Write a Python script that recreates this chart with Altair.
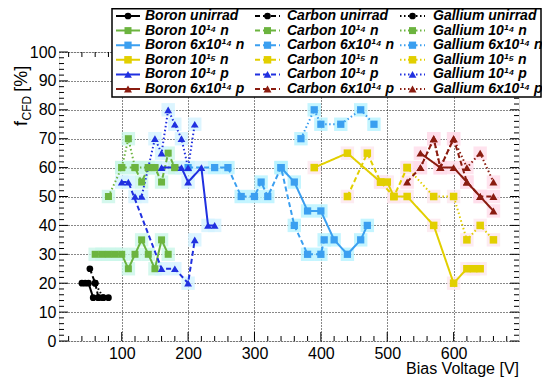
import altair as alt
import pandas as pd

FONT = "Liberation Sans"

# ---------------- categories / styles ----------------
materials = ["Boron", "Carbon", "Gallium"]
groups = ["unirrad", "1e14n", "6e14n", "1e15n", "1e14p", "6e14p"]
group_text = ["unirrad", "10¹⁴ n", "6x10¹⁴ n", "10¹⁵ n", "10¹⁴ p", "6x10¹⁴ p"]
group_colors = ["#000000", "#6cb43f", "#3b9ff0", "#e2cf00", "#2030e0", "#8a1c10"]
halo_colors = ["#ffffff", "#c9f6e8", "#b5f2ff", "#fde6ee", "#d3f2ff", "#ffdcea"]
group_shapes = ["circle", "square", "square", "square", "triangle-up", "triangle-up"]
group_sizes = [45, 64, 64, 64, 80, 80]
dash_styles = [[1, 0], [5, 3], [1.5, 2.5]]

# ---------------- data (bias voltage [V], f_CFD [%]) ----------------
boron_unirrad_v = [40, 50, 57, 65, 72, 80]
boron_unirrad_f = [20, 20, 15, 15, 15, 15]
carbon_unirrad_v = [52, 60, 65]
carbon_unirrad_f = [25, 20, 15]
gallium_unirrad_v = [45, 60, 72]
gallium_unirrad_f = [20, 20, 15]

boron_1e14n_v = [60, 70, 80, 90, 100, 110, 120, 130, 140, 150, 160, 170]
boron_1e14n_f = [30, 30, 30, 30, 30, 25, 30, 35, 30, 25, 35, 30]
carbon_1e14n_v = [100, 120, 130, 140, 150, 160, 170, 180]
carbon_1e14n_f = [60, 60, 55, 60, 60, 55, 65, 60]
gallium_1e14n_v = [80, 100, 110, 120, 140, 150, 180]
gallium_1e14n_f = [50, 60, 70, 60, 60, 60, 60]

boron_6e14n_v = [340, 360, 380, 400, 420, 440, 460, 470]
boron_6e14n_f = [60, 55, 45, 45, 35, 30, 35, 40]
carbon_6e14n_v = [200, 240, 260, 280, 300, 310, 320, 340, 360, 380, 400, 405]
carbon_6e14n_f = [60, 60, 60, 50, 50, 55, 50, 60, 40, 30, 30, 35]
gallium_6e14n_v = [370, 390, 400, 430, 460, 480]
gallium_6e14n_f = [70, 80, 75, 75, 80, 75]

boron_1e15n_v = [390, 440, 490, 500, 510, 530, 570, 600, 620, 630, 640]
boron_1e15n_f = [60, 65, 55, 55, 50, 50, 40, 20, 25, 25, 25]
carbon_1e15n_v = [440, 470, 490, 510, 530]
carbon_1e15n_f = [50, 65, 55, 50, 60]
gallium_1e15n_v = [530, 570, 600, 620, 640, 660]
gallium_1e15n_f = [60, 50, 50, 35, 40, 35]

boron_1e14p_v = [160, 190, 200, 220, 230, 240]
boron_1e14p_f = [60, 60, 55, 60, 40, 40]
carbon_1e14p_v = [100, 110, 160, 180, 200, 210]
carbon_1e14p_f = [55, 55, 25, 25, 20, 35]
gallium_1e14p_v = [120, 130, 150, 160, 170, 180, 190, 200, 210]
gallium_1e14p_f = [50, 50, 70, 65, 80, 75, 70, 60, 75]

boron_6e14p_v = [550, 580, 600, 620, 640, 660]
boron_6e14p_f = [65, 60, 60, 55, 50, 45]
carbon_6e14p_v = [530, 550, 570, 580, 600, 620, 640, 660]
carbon_6e14p_f = [55, 60, 70, 60, 70, 55, 50, 50]
gallium_6e14p_v = [550, 570, 580, 600, 620, 640, 660]
gallium_6e14p_f = [60, 70, 60, 70, 60, 65, 55]

# axis tick values
x_major = [100, 200, 300, 400, 500, 600]
x_minor = [v for v in range(20, 700, 20) if v % 100]
y_major = list(range(0, 101, 10))
y_minor = [v for v in range(2, 100, 2) if v % 10]

series_data = [
    ("Boron", "unirrad", boron_unirrad_v, boron_unirrad_f),
    ("Carbon", "unirrad", carbon_unirrad_v, carbon_unirrad_f),
    ("Gallium", "unirrad", gallium_unirrad_v, gallium_unirrad_f),
    ("Boron", "1e14n", boron_1e14n_v, boron_1e14n_f),
    ("Carbon", "1e14n", carbon_1e14n_v, carbon_1e14n_f),
    ("Gallium", "1e14n", gallium_1e14n_v, gallium_1e14n_f),
    ("Boron", "6e14n", boron_6e14n_v, boron_6e14n_f),
    ("Carbon", "6e14n", carbon_6e14n_v, carbon_6e14n_f),
    ("Gallium", "6e14n", gallium_6e14n_v, gallium_6e14n_f),
    ("Boron", "1e15n", boron_1e15n_v, boron_1e15n_f),
    ("Carbon", "1e15n", carbon_1e15n_v, carbon_1e15n_f),
    ("Gallium", "1e15n", gallium_1e15n_v, gallium_1e15n_f),
    ("Boron", "1e14p", boron_1e14p_v, boron_1e14p_f),
    ("Carbon", "1e14p", carbon_1e14p_v, carbon_1e14p_f),
    ("Gallium", "1e14p", gallium_1e14p_v, gallium_1e14p_f),
    ("Boron", "6e14p", boron_6e14p_v, boron_6e14p_f),
    ("Carbon", "6e14p", carbon_6e14p_v, carbon_6e14p_f),
    ("Gallium", "6e14p", gallium_6e14p_v, gallium_6e14p_f),
]

rows = []
for m, g, vs, fs in series_data:
    for v, f in zip(vs, fs):
        rows.append({"series": f"{m} {g}", "material": m, "group": g, "v": v, "f": f})
df = pd.DataFrame(rows)

# ---------------- layout ----------------
W, H = 460, 289
PADL, PADT = 51, 44
OX, OY = 8 + PADL, 8 + PADT  # page position of plot origin

xs = alt.Scale(domain=[5.5, 698.5], nice=False, zero=False)
ys = alt.Scale(domain=[0, 100], nice=False, zero=False)
x_axis = alt.Axis(values=x_major, grid=True, gridDash=[1, 2], gridColor="#111111",
                  gridWidth=1, ticks=False, domain=False, labelFont=FONT,
                  labelFontSize=16, labelColor="#000000", labelPadding=4,
                  title=None, labelFlush=False)
y_axis = alt.Axis(values=y_major, grid=True, gridDash=[1, 2], gridColor="#111111",
                  gridWidth=1, ticks=False, domain=False, labelFont=FONT,
                  labelFontSize=16, labelColor="#000000", labelPadding=3,
                  title=None, labelFlush=False)
X = alt.X("v:Q", scale=xs, axis=x_axis)
Y = alt.Y("f:Q", scale=ys, axis=y_axis)
color = alt.Color("group:N", scale=alt.Scale(domain=groups, range=group_colors), legend=None)
dash = alt.StrokeDash("material:N", scale=alt.Scale(domain=materials, range=dash_styles), legend=None)
shape = alt.Shape("group:N", scale=alt.Scale(domain=groups, range=group_shapes), legend=None)
size = alt.Size("group:O", scale=alt.Scale(domain=groups, range=group_sizes), legend=None)

halo = alt.Chart(df).transform_filter("datum.group != 'unirrad'").mark_point(
    filled=True, shape="square", size=180, opacity=0.8, strokeWidth=0
).encode(X, Y, fill=alt.Fill("group:N", scale=alt.Scale(domain=groups, range=halo_colors), legend=None))

lines = alt.Chart(df).mark_line(strokeWidth=2).encode(
    X, Y, color=color, strokeDash=dash, detail="series:N", order="v:Q")

points = alt.Chart(df).mark_point(filled=True, opacity=1).encode(
    X, Y, color=color, shape=shape, size=size)

def xticks(vals, y0, y1):
    return alt.Chart(pd.DataFrame({"v": vals})).mark_rule(color="black", strokeWidth=1).encode(
        X, y=alt.value(y0), y2=alt.value(y1))

def yticks(vals, x0, x1):
    return alt.Chart(pd.DataFrame({"f": vals})).mark_rule(color="black", strokeWidth=1).encode(
        Y, x=alt.value(x0), x2=alt.value(x1))

ticks = [
    xticks(x_major, H, H - 9), xticks(x_minor, H, H - 5),
    xticks(x_major, 0, 9), xticks(x_minor, 0, 5),
    yticks(y_major, 0, 9), yticks(y_minor, 0, 5),
    yticks(y_major, W, W - 9), yticks(y_minor, W, W - 5),
]

one = pd.DataFrame({"k": [0]})

def txt(t, x, y, sz, **kw):
    return alt.Chart(one).mark_text(text=t, fontSize=sz, font=FONT, color="black", **kw).encode(
        x=alt.value(x), y=alt.value(y))

YT_BASE = 27      # page x of the title baseline
YT_START = 126    # page y where the (upward reading) title starts
FS_T, FS_S = 18, 12
w_f = 0.278 * FS_T + 0.5
w_cfd = 2.055 * FS_S + 4
ytitle = [
    txt("f", YT_BASE - OX, YT_START - OY, FS_T, angle=270, align="left", baseline="alphabetic"),
    txt("CFD", YT_BASE + 4 - OX, YT_START - OY - w_f, FS_S, angle=270, align="left", baseline="alphabetic"),
    txt("[%]", YT_BASE - OX, YT_START - OY - w_f - w_cfd, FS_T, angle=270, align="left",
        baseline="alphabetic"),
]
xtitle = txt("Bias Voltage [V]", W, 374 - OY, 16, align="right", baseline="alphabetic")

main = alt.layer(halo, lines, points, *ticks, *ytitle, xtitle)

# ---------------- legend ----------------
col_line = [(116, 140), (255, 280), (400, 425)]
col_text = [145, 287, 433]
row_y = [16 + 14.6 * i for i in range(6)]

leg_rows = []
for ci, m in enumerate(materials):
    for ri, g in enumerate(groups):
        leg_rows.append({
            "material": m, "group": g, "label": f"{m} {group_text[ri]}",
            "lx1": col_line[ci][0] - OX, "lx2": col_line[ci][1] - OX,
            "lxm": (col_line[ci][0] + col_line[ci][1]) / 2 - OX,
            "lxt": col_text[ci] - OX, "ly": row_y[ri] - OY,
        })
leg = pd.DataFrame(leg_rows)

box = alt.Chart(one).mark_rect(fill="white", stroke="black", strokeWidth=1.5).encode(
    x=alt.value(112 - OX), x2=alt.value(541 - OX), y=alt.value(8.75 - OY), y2=alt.value(97 - OY))
leg_lines = alt.Chart(leg).mark_rule(strokeWidth=2).encode(
    x=alt.X("lx1:Q", scale=None, axis=None), x2="lx2:Q",
    y=alt.Y("ly:Q", scale=None, axis=None), color=color, strokeDash=dash)
leg_pts = alt.Chart(leg).mark_point(filled=True, opacity=1).encode(
    x=alt.X("lxm:Q", scale=None, axis=None), y=alt.Y("ly:Q", scale=None, axis=None),
    color=color, shape=shape, size=size)
leg_txt = alt.Chart(leg).mark_text(align="left", baseline="middle", font=FONT, fontSize=14,
                                   fontWeight="bold", fontStyle="italic", color="black").encode(
    x=alt.X("lxt:Q", scale=None, axis=None), y=alt.Y("ly:Q", scale=None, axis=None), text="label:N")

legend = alt.layer(box, leg_lines, leg_pts, leg_txt)

chart = alt.layer(main, legend).resolve_scale(x="independent", y="independent").properties(
    width=W, height=H,
    autosize=alt.AutoSizeParams(type="none"),
    padding={"left": PADL, "top": PADT, "right": 23, "bottom": 39},
).configure_view(stroke="black", strokeWidth=1.5).configure(font=FONT)

chart.save("out.html", embed_options={"renderer": "svg", "actions": False})
